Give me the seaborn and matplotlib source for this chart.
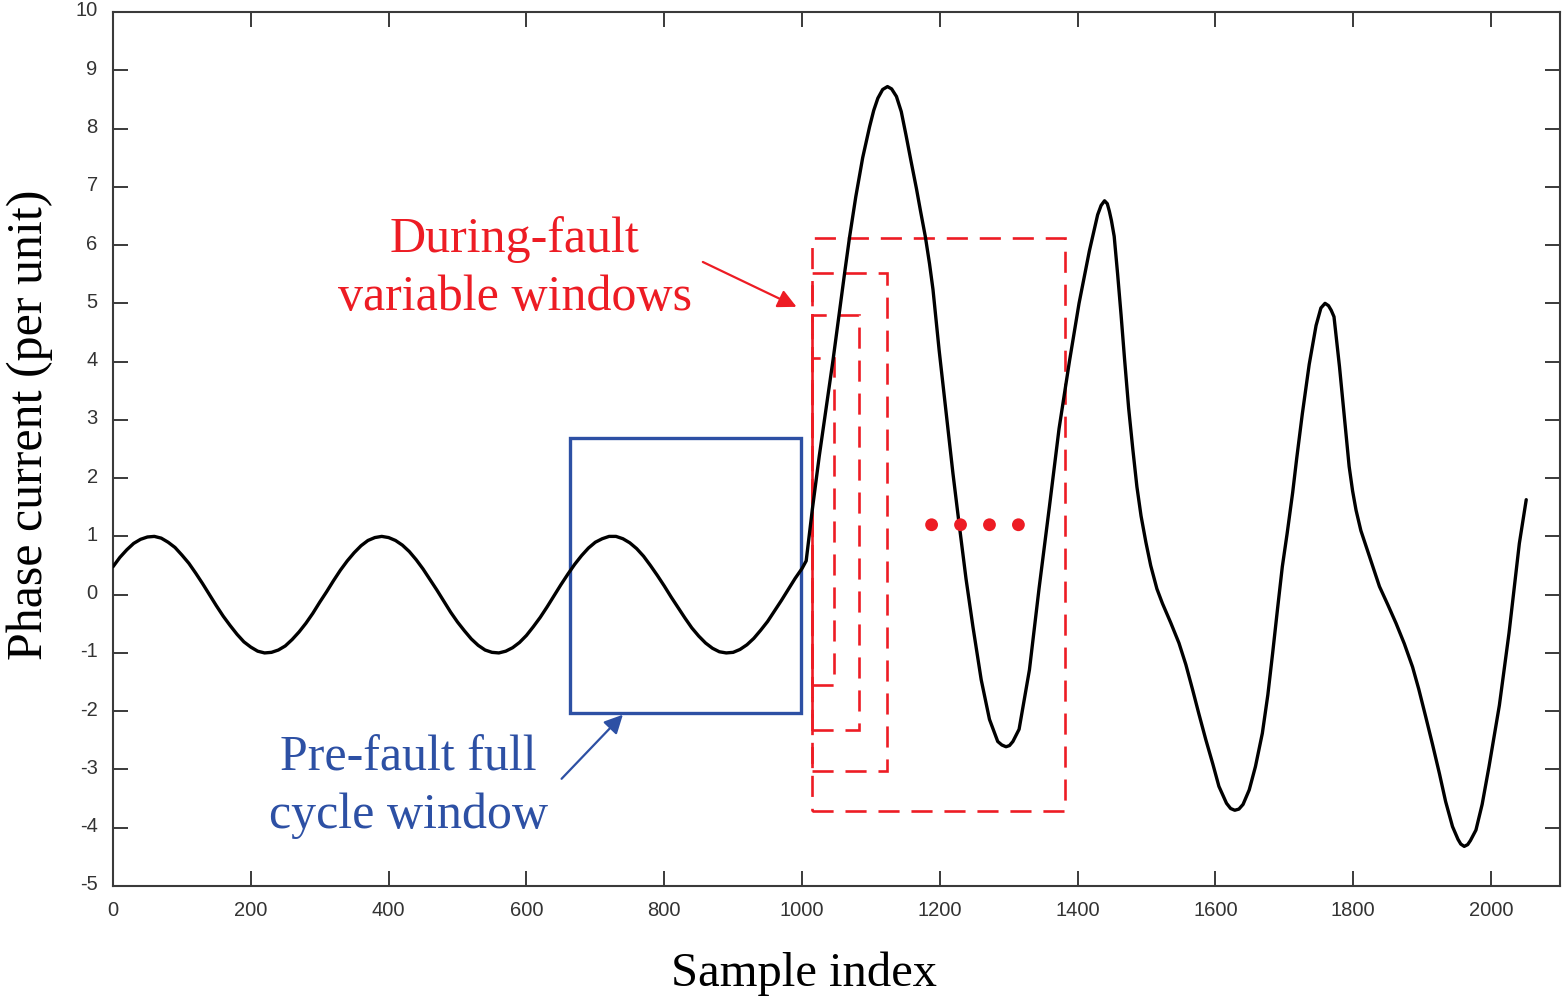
import numpy as np
import pandas as pd
import matplotlib
matplotlib.use("Agg")
import matplotlib.pyplot as plt
from matplotlib.patches import Rectangle
from matplotlib.transforms import ScaledTranslation
import seaborn as sns

# ---------------- data ----------------
pre_x = [0, 10, 20, 30, 40, 50, 60, 70, 80, 90, 100, 110, 120, 130, 140, 150, 160,
         170, 180, 190, 200, 210, 220, 230, 240, 250, 260, 270, 280, 290, 300, 310,
         320, 330, 340, 350, 360, 370, 380, 390, 400, 410, 420, 430, 440, 450, 460,
         470, 480, 490, 500, 510, 520, 530, 540, 550, 560, 570, 580, 590, 600, 610,
         620, 630, 640, 650, 660, 670, 680, 690, 700, 710, 720, 730, 740, 750, 760,
         770, 780, 790, 800, 810, 820, 830, 840, 850, 860, 870, 880, 890, 900, 910,
         920, 930, 940, 950, 960, 970, 980, 990, 1000, 1006]
pre_y = [0.48, 0.64, 0.77, 0.88, 0.95, 0.99, 1.00, 0.97, 0.90, 0.81, 0.68, 0.54,
         0.37, 0.19, 0.00, -0.19, -0.37, -0.53, -0.68, -0.81, -0.90, -0.97, -1.00,
         -0.99, -0.95, -0.88, -0.77, -0.64, -0.49, -0.32, -0.13, 0.05, 0.24, 0.42,
         0.58, 0.72, 0.84, 0.93, 0.98, 1.00, 0.98, 0.93, 0.85, 0.74, 0.60, 0.44,
         0.26, 0.08, -0.11, -0.30, -0.47, -0.62, -0.76, -0.87, -0.95, -0.99, -1.00,
         -0.97, -0.91, -0.82, -0.70, -0.55, -0.39, -0.21, -0.02, 0.17, 0.35, 0.52,
         0.67, 0.80, 0.90, 0.96, 1.00, 1.00, 0.96, 0.89, 0.79, 0.66, 0.50, 0.33,
         0.15, -0.04, -0.22, -0.40, -0.57, -0.71, -0.83, -0.92, -0.98, -1.00, -0.99,
         -0.94, -0.86, -0.75, -0.61, -0.46, -0.28, -0.10, 0.09, 0.28, 0.45, 0.58]

post_x = [1015, 1025, 1035, 1045, 1054, 1062, 1069, 1078, 1088, 1098, 1104, 1110,
          1117, 1124, 1130, 1137, 1144, 1151, 1158, 1166, 1172, 1179, 1185, 1190,
          1199, 1209, 1219, 1228, 1238, 1248, 1260, 1272, 1284, 1290, 1296, 1301,
          1306, 1315, 1330, 1344, 1359, 1373, 1388, 1402, 1417, 1429, 1434, 1439,
          1443, 1446, 1449, 1453, 1458, 1463, 1468, 1474, 1480, 1486, 1492, 1499,
          1506, 1515, 1523, 1535, 1547, 1557, 1567, 1576, 1586, 1596, 1605, 1616,
          1622, 1628, 1634, 1640, 1649, 1658, 1668, 1676, 1683, 1690, 1697, 1704,
          1712, 1718, 1726, 1736, 1746, 1753, 1759, 1764, 1768, 1772, 1780, 1787,
          1794, 1799, 1804, 1811, 1818, 1838, 1850, 1862, 1874, 1886, 1895, 1905,
          1915, 1925, 1934, 1944, 1952, 1956, 1961, 1966, 1970, 1978, 1987, 1997,
          2012, 2026, 2041, 2051]
post_y = [1.47, 2.38, 3.20, 4.03, 4.83, 5.54, 6.14, 6.83, 7.50, 8.03, 8.31, 8.52,
          8.67, 8.72, 8.68, 8.55, 8.29, 7.88, 7.45, 6.97, 6.58, 6.14, 5.68, 5.24,
          4.19, 3.14, 2.08, 1.21, 0.27, -0.55, -1.46, -2.14, -2.52, -2.58, -2.61,
          -2.59, -2.52, -2.31, -1.29, 0.11, 1.51, 2.85, 4.00, 5.00, 5.90, 6.52, 6.68,
          6.76, 6.71, 6.58, 6.42, 6.15, 5.50, 4.80, 4.05, 3.20, 2.50, 1.85, 1.35,
          0.90, 0.50, 0.10, -0.15, -0.48, -0.83, -1.20, -1.64, -2.05, -2.49, -2.90,
          -3.29, -3.58, -3.67, -3.70, -3.68, -3.60, -3.35, -2.95, -2.38, -1.72,
          -1.00, -0.25, 0.48, 1.05, 1.75, 2.35, 3.10, 3.95, 4.62, 4.92, 5.00, 4.96,
          4.88, 4.77, 3.91, 3.05, 2.20, 1.78, 1.45, 1.10, 0.85, 0.14, -0.17, -0.49,
          -0.84, -1.24, -1.62, -2.09, -2.57, -3.07, -3.55, -3.98, -4.20, -4.28,
          -4.32, -4.29, -4.22, -4.04, -3.60, -2.95, -1.90, -0.66, 0.88, 1.63]

# windows: (x0, x1, y0, y1)
prefault_window = (663, 999, -2.035, 2.684)
fault_win_x0 = [1014, 1014, 1014, 1014]
fault_win_x1 = [1046, 1083, 1123, 1382]
fault_win_y0 = [-1.555, -2.32, -3.02, -3.71]
fault_win_y1 = [4.06, 4.805, 5.515, 6.125]

dots_x = [1188, 1230, 1272, 1314]
dots_y = [1.2, 1.2, 1.2, 1.2]

x_ticks = list(range(0, 2001, 200))
y_ticks = list(range(-5, 11))

RED = "#ED1C24"
BLUE = "#2D50A4"
AX = "#3a3a3a"

# ---------------- style ----------------
sns.set_theme(style="ticks")
plt.rcParams["font.family"] = ["Liberation Sans", "DejaVu Sans"]

fig = plt.figure(figsize=(15.62, 10.01), dpi=100)
ax = fig.add_axes([113 / 1562, 1 - 886 / 1001, (1560 - 113) / 1562, (886 - 12) / 1001])

df = pd.DataFrame({"x": pre_x + post_x, "y": pre_y + post_y})
sns.lineplot(data=df, x="x", y="y", ax=ax, color="black", linewidth=2.4,
             sort=False, zorder=4, solid_joinstyle="round", solid_capstyle="round")

# pre-fault window
x0, x1, y0, y1 = prefault_window
ax.add_patch(Rectangle((x0, y0), x1 - x0, y1 - y0, fill=False, edgecolor=BLUE,
                       linewidth=2.4, zorder=3))

# during-fault windows
for a, b, c, d in zip(fault_win_x0, fault_win_x1, fault_win_y0, fault_win_y1):
    ax.add_patch(Rectangle((a, c), b - a, d - c, fill=False, edgecolor=RED,
                           linewidth=1.9, linestyle=(0, (8.0, 4.5)), zorder=3))

sns.scatterplot(x=dots_x, y=dots_y, ax=ax, color=RED, s=85, edgecolor="none",
                zorder=5, legend=False)

# annotations
serif = ["Liberation Serif", "DejaVu Serif"]
ax.text(583, 5.60, "During-fault\nvariable windows", color=RED, fontsize=36,
        family=serif, ha="center", va="center", linespacing=1.32)
ax.text(429, -3.30, "Pre-fault full\ncycle window", color=BLUE, fontsize=36,
        family=serif, ha="center", va="center", linespacing=1.32)
ax.annotate("", xy=(992, 4.94), xytext=(856, 5.71),
            arrowprops=dict(arrowstyle="-|>", color=RED, lw=1.6, mutation_scale=28,
                            shrinkA=0, shrinkB=0))
ax.annotate("", xy=(740, -2.06), xytext=(651, -3.16),
            arrowprops=dict(arrowstyle="-|>", color=BLUE, lw=1.6, mutation_scale=28,
                            shrinkA=0, shrinkB=0))

# axes
ax.set_xlim(0, 2100)
ax.set_ylim(-5, 10)
ax.set_xticks(x_ticks)
ax.set_yticks(y_ticks)
ax.set_xticklabels([str(v) for v in x_ticks])
ax.set_yticklabels([str(v) for v in y_ticks])
ax.tick_params(axis="both", which="both", direction="in", length=10.8, width=1.4,
               color=AX, labelcolor="#333333", labelsize=14.5,
               top=True, right=True)
ax.tick_params(axis="x", pad=11)
ax.tick_params(axis="y", pad=11)
for lab in ax.get_yticklabels():
    lab.set_transform(lab.get_transform() + ScaledTranslation(0, 3 / 100, fig.dpi_scale_trans))
for s in ax.spines.values():
    s.set_visible(True)
    s.set_color(AX)
    s.set_linewidth(1.5)

ax.set_xlabel("Sample index", fontsize=35, family=serif, color="black")
ax.set_ylabel("Phase current (per unit)", fontsize=36, family=serif, color="black")
ax.xaxis.set_label_coords((804 - 113) / 1447, -(974 - 886) / 874)
ax.yaxis.set_label_coords(-(113 - 30) / 1447, (886 - 425) / 874)
ax.xaxis.label.set_va("center")
ax.yaxis.label.set_va("center")

fig.savefig("out.png", dpi=100)
